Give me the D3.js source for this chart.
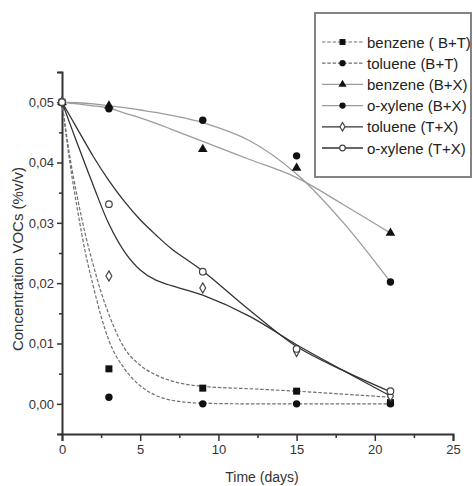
<!DOCTYPE html>
<html>
<head>
<meta charset="utf-8">
<script src="https://cdn.jsdelivr.net/npm/d3@7"></script>
<style>
  body { margin: 0; background: #fff; }
  svg { font-family: "Liberation Sans", Arial, sans-serif; }
</style>
</head>
<body>
<svg id="chart" width="473" height="486"></svg>
<script>
// measured points
const days = [0, 3, 9, 15, 21];
const benzeneBT = [0.05, 0.0058, 0.0026, 0.0021, 0.0002];
const tolueneBT = [0.05, 0.0011, 0.0, 0.0, 0.0];
const benzeneBX = [0.05, 0.0494, 0.0422, 0.0391, 0.0283];
const oxyleneBX = [0.05, 0.0489, 0.0470, 0.0411, 0.0202];
const tolueneTX = [0.05, 0.0212, 0.0192, 0.0087, 0.0013];
const oxyleneTX = [0.05, 0.0331, 0.0219, 0.0091, 0.0021];

// fitted curves
const fitDaysFast = [0, 0.5, 1, 1.5, 2, 2.5, 3, 4, 5, 6, 7, 9, 12, 15, 18, 21];
const benzeneBTFit = [0.05, 0.041, 0.034, 0.028, 0.023, 0.0185, 0.0148, 0.0092, 0.0064, 0.0048, 0.0038, 0.0029, 0.0025, 0.0021, 0.0016, 0.0011];
const tolueneBTFit = [0.05, 0.040, 0.032, 0.025, 0.0195, 0.0145, 0.0105, 0.0058, 0.003, 0.0014, 0.0006, 0.0001, 0, 0, 0, 0];

const fitDaysSlow = [0, 1, 2, 3, 4, 5, 6, 7, 9, 12, 15, 18, 21];
const benzeneBXFit = [0.05, 0.0497, 0.0494, 0.049, 0.0482, 0.0474, 0.0465, 0.0455, 0.0435, 0.0405, 0.0375, 0.033, 0.0283];
const oxyleneBXFit = [0.05, 0.0499, 0.0497, 0.0494, 0.0491, 0.0487, 0.0483, 0.0478, 0.0466, 0.0436, 0.0381, 0.030, 0.0202];
const tolueneTXFit = [0.05, 0.043, 0.0362, 0.0298, 0.0252, 0.0222, 0.0205, 0.0196, 0.018, 0.0145, 0.0098, 0.0055, 0.0013];
const oxyleneTXFit = [0.05, 0.0455, 0.041, 0.037, 0.0335, 0.0305, 0.028, 0.0257, 0.022, 0.0155, 0.0095, 0.0055, 0.002];

const xTicks = [0, 5, 10, 15, 20, 25];
const yTicks = [0, 0.01, 0.02, 0.03, 0.04, 0.05];

const series = [
  { label: "benzene ( B+T)", values: benzeneBT, fitX: fitDaysFast, fit: benzeneBTFit, shape: "square", line: "bt" },
  { label: "toluene (B+T)",  values: tolueneBT, fitX: fitDaysFast, fit: tolueneBTFit, shape: "dot", line: "bt" },
  { label: "benzene (B+X)",  values: benzeneBX, fitX: fitDaysSlow, fit: benzeneBXFit, shape: "triangle", line: "bx" },
  { label: "o-xylene (B+X)", values: oxyleneBX, fitX: fitDaysSlow, fit: oxyleneBXFit, shape: "dot", line: "bx" },
  { label: "toluene (T+X)",  values: tolueneTX, fitX: fitDaysSlow, fit: tolueneTXFit, shape: "diamond", line: "tx" },
  { label: "o-xylene (T+X)", values: oxyleneTX, fitX: fitDaysSlow, fit: oxyleneTXFit, shape: "ring", line: "tx" }
];

const lineStyle = {
  bt: { stroke: "#707070", width: 1.2, dash: "3.5,1.8", curve: d3.curveMonotoneX },
  bx: { stroke: "#9c9c9c", width: 1.3, dash: null, curve: d3.curveCatmullRom },
  tx: { stroke: "#333", width: 1.3, dash: null, curve: d3.curveCatmullRom }
};

const svg = d3.select("#chart");
const x = d3.scaleLinear().domain([0, 25]).range([62, 453]);
const y = d3.scaleLinear().domain([-0.005, 0.055]).range([434, 72]);
const comma = v => d3.format(".2f")(v).replace(".", ",");

// axes
svg.append("g").attr("transform", "translate(0,434)")
  .call(d3.axisBottom(x).tickValues(xTicks).tickSize(7).tickPadding(4).tickFormat(d3.format("d")));
svg.append("g").attr("transform", "translate(0,434)")
  .call(d3.axisBottom(x).tickValues(d3.range(2.5, 25, 5)).tickSize(4).tickFormat(""))
  .select(".domain").remove();

svg.append("g").attr("transform", "translate(62,0)")
  .call(d3.axisLeft(y).tickValues(yTicks).tickSize(5).tickPadding(3).tickFormat(comma));
svg.append("g").attr("transform", "translate(62,0)")
  .call(d3.axisLeft(y).tickValues([-0.005, 0.005, 0.015, 0.025, 0.035, 0.045, 0.055]).tickSize(3).tickFormat(""))
  .select(".domain").remove();

svg.selectAll(".domain").attr("stroke", "#333").attr("stroke-width", 2);
svg.selectAll(".tick line").attr("stroke", "#333").attr("stroke-width", 1.5);
svg.selectAll(".tick text").attr("fill", "#333").style("font-size", "13px");

svg.append("text")
  .attr("x", 262).attr("y", 482)
  .attr("text-anchor", "middle")
  .attr("fill", "#333")
  .style("font-size", "14px")
  .text("Time (days)");

svg.append("text")
  .attr("transform", "translate(23,259) rotate(-90)")
  .attr("text-anchor", "middle")
  .attr("fill", "#333")
  .style("font-size", "15px")
  .text("Concentration VOCs (%v/v)");

// fitted curves
series.forEach(s => {
  const st = lineStyle[s.line];
  const line = d3.line().curve(st.curve);
  svg.append("path")
    .attr("d", line(s.fitX.map((d, i) => [x(d), y(s.fit[i])])))
    .attr("fill", "none")
    .attr("stroke", st.stroke)
    .attr("stroke-width", st.width)
    .attr("stroke-dasharray", st.dash);
});

// markers
function drawMarker(g, shape, cx, cy, k = 1) {
  if (shape === "square") {
    g.append("rect").attr("x", cx - 3.5 * k).attr("y", cy - 3.5 * k)
      .attr("width", 7 * k).attr("height", 7 * k).attr("fill", "#111");
  } else if (shape === "dot") {
    g.append("circle").attr("cx", cx).attr("cy", cy).attr("r", 3.7 * k).attr("fill", "#111");
  } else if (shape === "triangle") {
    g.append("path").attr("d", d3.symbol(d3.symbolTriangle, 40 * k * k)())
      .attr("transform", `translate(${cx},${cy})`).attr("fill", "#111");
  } else if (shape === "diamond") {
    g.append("path").attr("d", d3.symbol(d3.symbolDiamond, 30 * k * k)())
      .attr("transform", `translate(${cx},${cy})`)
      .attr("fill", "#fff").attr("stroke", "#444").attr("stroke-width", 1.2);
  } else if (shape === "ring") {
    g.append("circle").attr("cx", cx).attr("cy", cy).attr("r", 3.3 * k)
      .attr("fill", "#fff").attr("stroke", "#444").attr("stroke-width", 1.2);
  }
}

const marks = svg.append("g");
series.forEach(s => {
  s.values.forEach((v, i) => drawMarker(marks, s.shape, x(days[i]), y(v)));
});

// legend
const legend = svg.append("g");
legend.append("rect")
  .attr("x", 315).attr("y", 13).attr("width", 156).attr("height", 164)
  .attr("fill", "#fff").attr("stroke", "#777").attr("stroke-width", 1.8);

series.forEach((s, i) => {
  const ly = 42 + i * 21.2;
  const st = lineStyle[s.line];
  legend.append("line")
    .attr("x1", 322).attr("x2", 363).attr("y1", ly).attr("y2", ly)
    .attr("stroke", st.stroke).attr("stroke-width", st.width)
    .attr("stroke-dasharray", st.dash);
  drawMarker(legend, s.shape, 342.5, ly, 0.85);
  legend.append("text")
    .attr("x", 367).attr("y", ly + 5.5)
    .attr("fill", "#222")
    .style("font-size", "15px")
    .text(s.label);
});
</script>
</body>
</html>
